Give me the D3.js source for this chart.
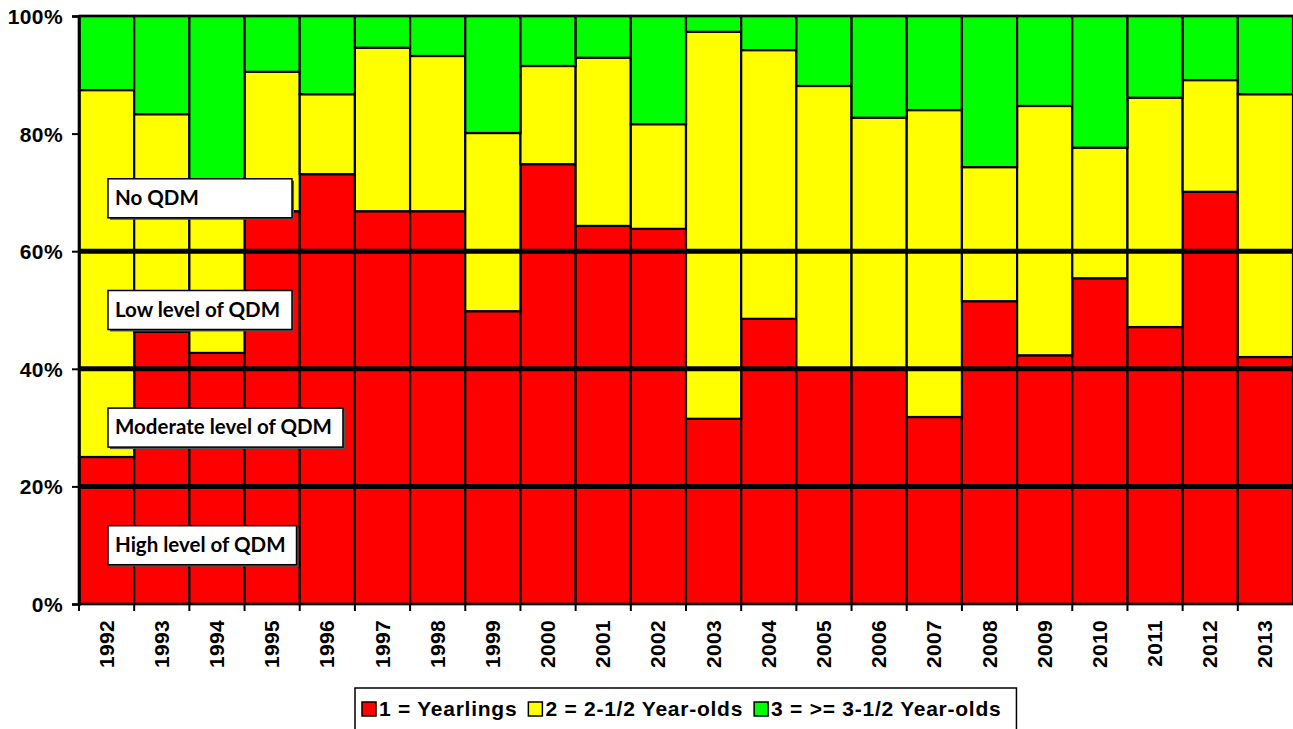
<!DOCTYPE html>
<html>
<head>
<meta charset="utf-8">
<script src="https://cdn.jsdelivr.net/npm/d3@7"></script>
<style>
  body { margin: 0; background: #fff; }
  svg { display: block; }
</style>
</head>
<body>
<svg id="chart" width="1293" height="729"></svg>
<script>
// data (percent of each year's total)
var years = ["1992","1993","1994","1995","1996","1997","1998","1999","2000","2001","2002",
             "2003","2004","2005","2006","2007","2008","2009","2010","2011","2012","2013"];
var yearlings  = [25, 46.3, 42.7, 66.8, 73.1, 66.8, 66.8, 49.8, 74.8, 64.3, 63.8,
                  31.5, 48.5, 40, 40, 31.8, 51.5, 42.3, 55.4, 47.1, 70.1, 42];
var twoHalf    = [62.4, 37, 27.3, 23.7, 13.6, 27.8, 26.4, 30.3, 16.7, 28.6, 17.8,
                  65.8, 45.7, 48.1, 42.7, 52.2, 22.8, 42.4, 22.2, 39, 19, 44.7];
var threePlus  = [12.6, 16.7, 30, 9.5, 13.3, 5.4, 6.8, 19.9, 8.5, 7.1, 18.4,
                  2.7, 5.8, 11.9, 17.3, 16, 25.7, 15.3, 22.4, 13.9, 10.9, 13.3];
var seriesNames = ["1 = Yearlings", "2 = 2-1/2 Year-olds", "3 = >= 3-1/2 Year-olds"];
var seriesColors = ["#ff0000", "#ffff00", "#00ff00"];
var yTicks = [0, 20, 40, 60, 80, 100];
var qdmLines = [20, 40, 60];
var qdmLabels = ["High level of QDM", "Moderate level of QDM", "Low level of QDM", "No QDM"];
var qdmLower = [0, 20, 40, 60];

var svg = d3.select("#chart");
var plotLeft = 79, plotRight = 1293, plotTop = 16, plotBottom = 604;
var arial = "'Liberation Sans', Arial, sans-serif";

var x = d3.scaleBand().domain(years).range([plotLeft, plotRight]).paddingInner(0).paddingOuter(0);
var y = d3.scaleLinear().domain([0, 100]).range([plotBottom, plotTop]);

var rows = years.map(function(yr, i){
    var r = {year: yr};
    r[seriesNames[0]] = yearlings[i];
    r[seriesNames[1]] = twoHalf[i];
    r[seriesNames[2]] = threePlus[i];
    return r;
});
var stacked = d3.stack().keys(seriesNames)(rows);

// Bars
var layers = svg.append("g").attr("id", "bars")
    .selectAll("g.layer")
    .data(stacked)
    .enter()
    .append("g")
    .attr("class", "layer")
    .attr("fill", function(d, i){ return seriesColors[i]; });
layers.selectAll("rect")
    .data(function(d){ return d; })
    .enter()
    .append("rect")
    .attr("x", function(d){ return x(d.data.year); })
    .attr("y", function(d){ return y(d[1]); })
    .attr("width", x.bandwidth())
    .attr("height", function(d){ return y(d[0]) - y(d[1]); })
    .attr("stroke", "#000")
    .attr("stroke-width", 2.2);

// plot frame (top + left)
svg.append("line")
    .attr("x1", plotLeft).attr("x2", plotRight)
    .attr("y1", plotTop).attr("y2", plotTop)
    .attr("stroke", "#000").attr("stroke-width", 2.5);
svg.append("line")
    .attr("x1", plotLeft).attr("x2", plotLeft)
    .attr("y1", plotTop).attr("y2", plotBottom)
    .attr("stroke", "#000").attr("stroke-width", 2.5);

// QDM threshold lines
svg.append("g").selectAll("line.qdm")
    .data(qdmLines)
    .enter()
    .append("line")
    .attr("class", "qdm")
    .attr("x1", plotLeft).attr("x2", plotRight)
    .attr("y1", function(d){ return y(d); })
    .attr("y2", function(d){ return y(d); })
    .attr("stroke", "#000")
    .attr("stroke-width", 5);

// Y axis
var yAxis = d3.axisLeft(y)
    .tickValues(yTicks)
    .tickSize(7)
    .tickPadding(9)
    .tickFormat(function(d){ return d + "%"; });
var gy = svg.append("g")
    .attr("transform", "translate(" + plotLeft + ",0)")
    .call(yAxis);
gy.select(".domain").attr("stroke", "#000").attr("stroke-width", 2.5);
gy.selectAll(".tick line").attr("stroke", "#000").attr("stroke-width", 2);
gy.selectAll(".tick text")
    .attr("font-family", arial)
    .attr("font-weight", "bold")
    .attr("font-size", 21)
    .attr("letter-spacing", "0.4px")
    .attr("fill", "#000")
    .attr("dy", "0.36em");

// X axis: tick marks on category boundaries, labels rotated
var gx = svg.append("g").attr("id", "xaxis");
gx.append("line")
    .attr("x1", plotLeft).attr("x2", plotRight)
    .attr("y1", plotBottom).attr("y2", plotBottom)
    .attr("stroke", "#000").attr("stroke-width", 2.5);
gx.selectAll("line.xtick")
    .data(years)
    .enter()
    .append("line")
    .attr("class", "xtick")
    .attr("x1", function(d){ return x(d); })
    .attr("x2", function(d){ return x(d); })
    .attr("y1", plotBottom)
    .attr("y2", plotBottom + 7)
    .attr("stroke", "#000").attr("stroke-width", 2);
gx.selectAll("text.xlab")
    .data(years)
    .enter()
    .append("text")
    .attr("class", "xlab")
    .text(function(d){ return d; })
    .attr("transform", function(d){
        return "translate(" + (x(d) + x.bandwidth() / 2 + 7) + "," + (plotBottom + 16) + ") rotate(-90)";
    })
    .attr("text-anchor", "end")
    .attr("font-family", arial)
    .attr("font-weight", "bold")
    .attr("font-size", 21)
    .attr("letter-spacing", "0.3px")
    .attr("fill", "#000");

// QDM label boxes, each sitting in its band (top one a bit lower)
var boxLeft = 108, boxH = 39, minBoxW = 184;
var lab = svg.append("g").attr("id", "qdmlabels")
    .selectAll("g.qlab")
    .data(qdmLabels)
    .enter()
    .append("g")
    .attr("class", "qlab")
    .attr("transform", function(d, i){
        var mid = qdmLower[i] + (i == qdmLabels.length - 1 ? 9 : 10);
        return "translate(" + boxLeft + "," + (y(mid) - boxH / 2) + ")";
    });
lab.append("rect").attr("class", "shadow")
    .attr("x", 2).attr("y", 2).attr("height", boxH)
    .attr("fill", "#555");
lab.append("rect").attr("class", "box")
    .attr("height", boxH)
    .attr("fill", "#fff")
    .attr("stroke", "#000")
    .attr("stroke-width", 1.5);
lab.append("text")
    .text(function(d){ return d; })
    .attr("x", 7)
    .attr("y", 26)
    .attr("font-family", "Lato, 'Open Sans', sans-serif")
    .attr("font-weight", "bold")
    .attr("font-size", 20.5)
    .attr("fill", "#000");
lab.each(function(){
    var g = d3.select(this);
    var w = Math.max(minBoxW, g.select("text").node().getComputedTextLength() + 18);
    g.selectAll("rect").attr("width", w);
});

// Legend
var legend = svg.append("g").attr("id", "legend");
var legendBox = legend.append("rect")
    .attr("x", 355).attr("y", 688)
    .attr("height", 60)
    .attr("fill", "#fff")
    .attr("stroke", "#000")
    .attr("stroke-width", 1.5);
var lx = 362;
seriesNames.forEach(function(name, i){
    legend.append("rect")
        .attr("x", lx).attr("y", 702)
        .attr("width", 14).attr("height", 14)
        .attr("fill", seriesColors[i])
        .attr("stroke", "#000")
        .attr("stroke-width", 1.5);
    var t = legend.append("text")
        .text(name)
        .attr("x", lx + 17)
        .attr("y", 716)
        .attr("font-family", arial)
        .attr("font-weight", "bold")
        .attr("font-size", 21)
        .attr("letter-spacing", "0.75px")
        .attr("fill", "#000");
    lx = lx + 17 + t.node().getComputedTextLength() + 11;
});
legendBox.attr("width", lx + 4 - 355);
</script>
</body>
</html>
